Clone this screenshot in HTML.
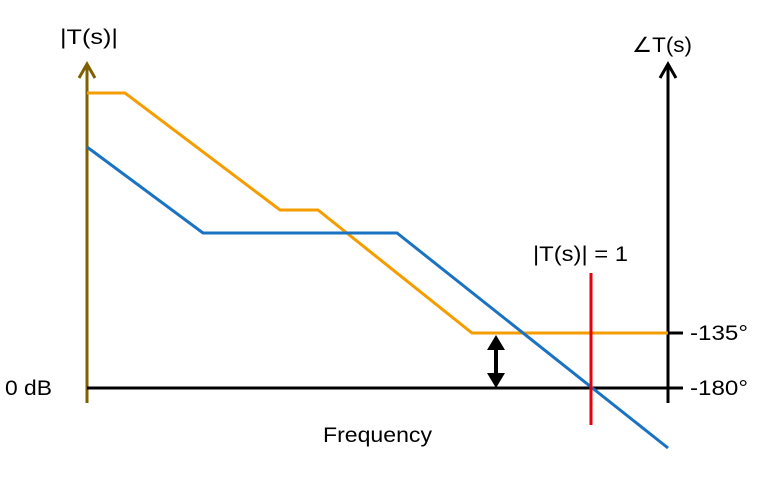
<!DOCTYPE html>
<html><head><style>
html,body{margin:0;padding:0;background:#fff;}
</style></head><body>
<svg width="770" height="472" viewBox="0 0 770 472" xmlns="http://www.w3.org/2000/svg" font-family="Liberation Sans, sans-serif" font-size="21">
<line x1="87" y1="66" x2="87" y2="403" stroke="#7f6000" stroke-width="3"/>
<polyline points="79,78 87,64 95,78" fill="none" stroke="#7f6000" stroke-width="3"/>
<line x1="668" y1="66" x2="668" y2="403" stroke="#000" stroke-width="3"/>
<polyline points="660,78 668,64 676,78" fill="none" stroke="#000" stroke-width="3"/>
<line x1="87" y1="388" x2="683" y2="388" stroke="#000" stroke-width="3"/>
<line x1="668" y1="333" x2="683" y2="333" stroke="#000" stroke-width="3"/>
<polyline points="87,93 125,93 280,210 318,210 472,333 668,333" fill="none" stroke="#f59d00" stroke-width="3"/>
<polyline points="87,147 203,233 397,233 668,448" fill="none" stroke="#1a73c2" stroke-width="3"/>
<line x1="591" y1="273" x2="591" y2="425" stroke="#e8000b" stroke-width="3"/>
<line x1="496" y1="345" x2="496" y2="378" stroke="#000" stroke-width="4"/>
<polygon points="487,350 496,335 505,350" fill="#000"/>
<polygon points="487,373 496,388 505,373" fill="#000"/>
<text x="60" y="44" textLength="58" lengthAdjust="spacingAndGlyphs">|T(s)|</text>
<text x="632" y="52" textLength="60" lengthAdjust="spacingAndGlyphs">∠T(s)</text>
<text x="5" y="395" textLength="47" lengthAdjust="spacingAndGlyphs">0 dB</text>
<text x="690" y="395" textLength="58" lengthAdjust="spacingAndGlyphs">-180°</text>
<text x="690" y="340" textLength="58" lengthAdjust="spacingAndGlyphs">-135°</text>
<text x="533" y="261" textLength="95" lengthAdjust="spacingAndGlyphs">|T(s)| = 1</text>
<text x="323" y="442" textLength="109" lengthAdjust="spacingAndGlyphs">Frequency</text>
</svg>
</body></html>
